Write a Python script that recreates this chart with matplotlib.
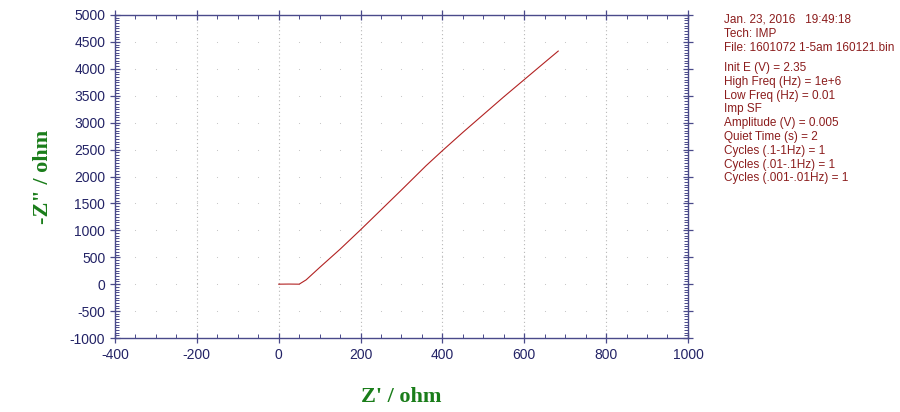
import numpy as np
import matplotlib.pyplot as plt
from matplotlib.ticker import MultipleLocator

# impedance data (Nyquist)
z_real = [0, 25, 50, 67, 100, 150, 200, 250, 300, 360, 400, 450, 500, 550, 600, 650, 683]
z_imag = [0, 2, 0, 80, 310, 650, 1010, 1380, 1750, 2200, 2480, 2820, 3150, 3480, 3800, 4120, 4330]

x_ticks = np.arange(-400, 1001, 200)
y_ticks = np.arange(-1000, 5001, 500)

info_head = ["Jan. 23, 2016   19:49:18", "Tech: IMP", "File: 1601072 1-5am 160121.bin"]
info_body = ["Init E (V) = 2.35", "High Freq (Hz) = 1e+6", "Low Freq (Hz) = 0.01", "Imp SF",
             "Amplitude (V) = 0.005", "Quiet Time (s) = 2", "Cycles (.1-1Hz) = 1",
             "Cycles (.01-.1Hz) = 1", "Cycles (.001-.01Hz) = 1"]

plt.rcParams["axes.unicode_minus"] = False

navy = "#232366"
spine_c = "#4a4a8a"
red = "#b22222"
green = "#1a7d1a"

fig = plt.figure(figsize=(9, 4.12), dpi=100)
ax = fig.add_axes([0.1278, 0.1796, 0.6366, 0.784])

# grid: dotted verticals at major x, dots at minor x on major y
for xv in x_ticks[1:-1]:
    ax.axvline(xv, color="#b8b8b8", lw=0.8, ls=(0, (1, 2.5)), zorder=0)
minor_x = np.arange(-400, 1001, 50)
gx, gy = np.meshgrid(minor_x[1:-1], y_ticks[1:-1])
ax.scatter(gx.ravel(), gy.ravel(), s=0.6, color="#c0c0c0", zorder=0, linewidths=0)

ax.plot(z_real, z_imag, color=red, lw=0.8)

ax.set_xlim(-400, 1000)
ax.set_ylim(-1000, 5000)
ax.set_xticks(x_ticks)
ax.set_yticks(y_ticks)
ax.xaxis.set_minor_locator(MultipleLocator(50))
ax.yaxis.set_minor_locator(MultipleLocator(50))
ax.tick_params(which="major", direction="inout", length=7, width=0.9, color=spine_c,
               labelcolor=navy, labelsize=10, top=True, right=True)
ax.tick_params(which="minor", direction="in", length=3, width=0.7, color=spine_c,
               top=True, right=True)
for lab in ax.get_xticklabels() + ax.get_yticklabels():
    lab.set_family("Liberation Sans")
for s in ax.spines.values():
    s.set_color(spine_c)
    s.set_linewidth(1.0)

ax.set_xlabel("Z' / ohm", fontsize=16, fontweight="bold", color=green,
              family="Liberation Serif", labelpad=18)
ax.set_ylabel('-Z" / ohm', fontsize=16, fontweight="bold", color=green,
              family="Liberation Serif", labelpad=12)

y0 = 1 - 20 / 412
step = 13.8 / 412
for i, t in enumerate(info_head):
    fig.text(724 / 900, y0 - i * step, t, fontsize=8.5, color="#8b1c1c",
             family="Liberation Sans", va="center")
y1 = 1 - 68 / 412
for i, t in enumerate(info_body):
    fig.text(724 / 900, y1 - i * step, t, fontsize=8.5, color="#8b1c1c",
             family="Liberation Sans", va="center")

fig.savefig("out.png", dpi=100)
